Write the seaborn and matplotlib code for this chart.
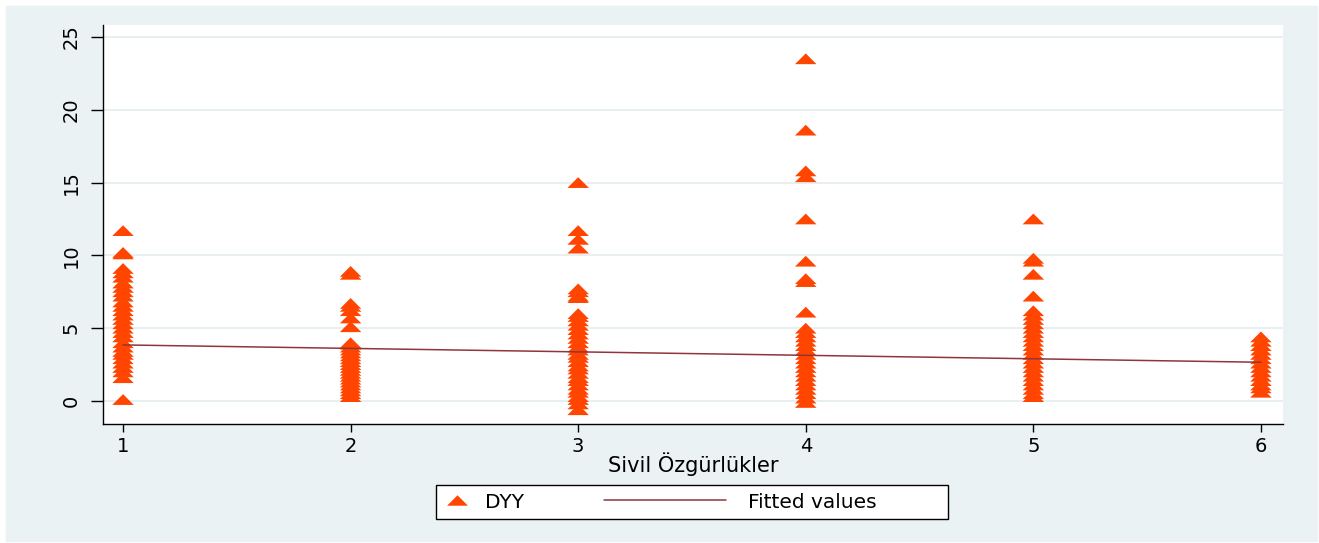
import numpy as np
import pandas as pd
import matplotlib
matplotlib.use("Agg")
import matplotlib.pyplot as plt
from matplotlib.patches import Rectangle
from matplotlib.lines import Line2D
from matplotlib.legend_handler import HandlerLine2D
import seaborn as sns

# DYY values, one list per Sivil Özgürlükler score
dyy_1 = [11.7, 10.2, 10.1, 9.1, 8.8, 8.5, 8.1, 7.8, 7.5, 7.2, 6.8, 6.5, 6.2, 5.9,
         5.6, 5.3, 5.0, 4.7, 4.4, 4.0, 3.7, 3.4, 3.2, 2.9, 2.6, 2.3, 2.0, 1.6, 0.1]
dyy_2 = [8.9, 8.7, 6.7, 6.5, 6.2, 5.7, 5.1, 4.0, 3.9, 3.7, 3.5, 3.3, 3.1, 2.9,
         2.7, 2.5, 2.3, 2.1, 1.9, 1.7, 1.5, 1.3, 1.1, 0.9, 0.7, 0.5, 0.3]
dyy_3 = [15.0, 11.7, 11.1, 10.5, 7.7, 7.5, 7.2, 7.1, 6.0, 5.8, 5.5, 5.2, 4.9, 4.6,
         4.3, 4.0, 3.7, 3.5, 3.2, 3.0, 2.7, 2.4, 2.2, 1.9, 1.6, 1.4, 1.1, 0.8,
         0.6, 0.3, 0.1, -0.2, -0.6]
dyy_4 = [23.5, 18.6, 15.8, 15.4, 12.5, 9.6, 8.4, 8.2, 6.1, 5.0, 4.7, 4.4, 4.1,
         3.8, 3.5, 3.2, 2.9, 2.6, 2.3, 2.0, 1.7, 1.4, 1.1, 0.8, 0.5, 0.2, -0.1]
dyy_5 = [12.5, 9.8, 9.6, 8.7, 7.2, 6.2, 5.9, 5.6, 5.3, 5.0, 4.7, 4.4, 4.1, 3.8,
         3.5, 3.2, 2.9, 2.6, 2.3, 2.0, 1.7, 1.4, 1.1, 0.8, 0.5, 0.3]
dyy_6 = [4.4, 4.1, 3.8, 3.5, 3.2, 2.9, 2.6, 2.3, 2.0, 1.7, 1.4, 1.1, 0.9, 0.6]

# fitted line end points
fit_x = [1, 6]
fit_y = [3.85, 2.66]

x_ticks = [1, 2, 3, 4, 5, 6]
y_ticks = [0, 5, 10, 15, 20, 25]

groups = [dyy_1, dyy_2, dyy_3, dyy_4, dyy_5, dyy_6]
df = pd.DataFrame({
    "sivil": np.concatenate([[k] * len(g) for k, g in zip(x_ticks, groups)]),
    "dyy": np.concatenate(groups),
})

sns.set_style("white")
plt.rcParams["font.family"] = ["DejaVu Sans"]
plt.rcParams["text.color"] = "black"
plt.rcParams["axes.labelcolor"] = "black"


class LongLine(HandlerLine2D):
    # legend line that reaches further left than the handle box
    def __init__(self, extra, **kw):
        super().__init__(**kw)
        self.extra = extra

    def create_artists(self, legend, orig_handle, xdescent, ydescent, width,
                       height, fontsize, trans):
        return super().create_artists(legend, orig_handle, xdescent + self.extra,
                                      ydescent, width + self.extra, height,
                                      fontsize, trans)


W, H = 1319, 543
fig = plt.figure(figsize=(W / 100, H / 100), dpi=100, facecolor="white")
bg = "#EAF2F3"
fig.patches.append(Rectangle((6 / W, 2 / H), (W - 8) / W, (H - 8) / H,
                             transform=fig.transFigure, color=bg, zorder=-10))

ax = fig.add_axes([103 / W, 1 - 424 / H, 1180 / W, 399 / H])
ax.set_facecolor("white")

orange = "#FF4500"
maroon = "#90353B"
tri = [(-1, -0.5), (1, -0.5), (0, 0.5)]

sns.scatterplot(data=df, x="sivil", y="dyy", marker=tri, s=240, color=orange,
                edgecolor="none", linewidth=0, ax=ax, legend=False, zorder=3)
sns.lineplot(x=fit_x, y=fit_y, color=maroon, linewidth=1.1, ax=ax, zorder=4)

ax.set_xlim(0.912, 6.097)
ax.set_ylim(-1.58, 25.82)
ax.set_xticks(x_ticks)
ax.set_yticks(y_ticks)
ax.set_yticklabels([str(v) for v in y_ticks], rotation=90, va="center")
ax.tick_params(axis="y", length=9, width=1, pad=7, labelsize=14, left=True,
               colors="black")
ax.tick_params(axis="x", length=6, width=1, pad=3, labelsize=14, bottom=True,
               colors="black")
ax.grid(axis="y", color="#E4ECEE", linewidth=1.2)
ax.set_axisbelow(True)
for s in ["top", "right"]:
    ax.spines[s].set_visible(False)
for s in ["left", "bottom"]:
    ax.spines[s].set_color("black")
    ax.spines[s].set_linewidth(1)

ax.set_xlabel("Sivil Özgürlükler", fontsize=15, labelpad=-2)
ax.set_ylabel("")

# legend box
fig.patches.append(Rectangle((436 / W, 1 - 519 / H), 512 / W, 34 / H,
                             transform=fig.transFigure, facecolor="white",
                             edgecolor="black", linewidth=1, zorder=5))

leg_fs = 14.5
line_handle = Line2D([], [], color=maroon, linewidth=1.1)
handles = [
    Line2D([], [], linestyle="none", marker=tri, markersize=15, color=orange,
           markeredgewidth=0),
    line_handle,
]
leg = fig.legend(handles, ["DYY", "Fitted values"], loc="center left",
                 bbox_to_anchor=(444 / W, 1 - 502 / H), ncol=2, fontsize=leg_fs,
                 frameon=False, handlelength=0.6, handletextpad=1.1,
                 columnspacing=9.4, borderpad=0.35, borderaxespad=0,
                 handler_map={line_handle: LongLine(extra=79)})
leg.set_zorder(6)

fig.savefig("out.png", dpi=100, facecolor="white")
